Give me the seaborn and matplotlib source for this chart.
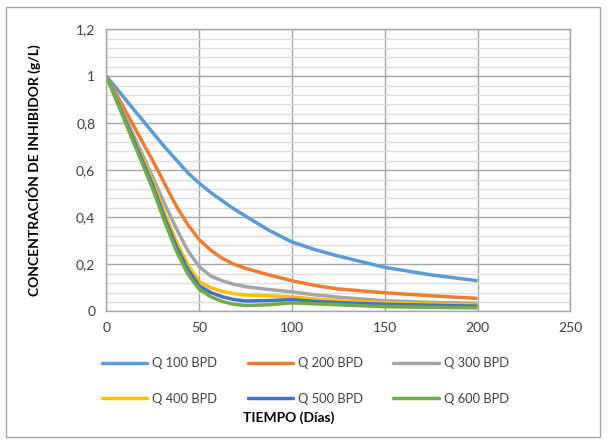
import matplotlib
matplotlib.use("Agg")
import matplotlib.pyplot as plt
import seaborn as sns
import pandas as pd
from matplotlib.lines import Line2D
from matplotlib.patches import Rectangle
from matplotlib.ticker import MultipleLocator, FuncFormatter

# ---- data ----
dias = [0, 12.5, 25, 31.25, 37.5, 43.75, 50, 56.25, 62.5, 68.75, 75, 87.5, 100,
        112.5, 125, 150, 175, 200]
q100 = [1.0, 0.88, 0.76, 0.70, 0.645, 0.59, 0.545, 0.505, 0.47, 0.435, 0.405, 0.345,
        0.295, 0.262, 0.235, 0.187, 0.155, 0.13]
q200 = [1.0, 0.82, 0.64, 0.545, 0.45, 0.37, 0.305, 0.26, 0.225, 0.20, 0.183, 0.155,
        0.13, 0.11, 0.095, 0.079, 0.066, 0.055]
q300 = [1.0, 0.785, 0.57, 0.46, 0.355, 0.26, 0.19, 0.15, 0.13, 0.115, 0.105, 0.093,
        0.083, 0.07, 0.06, 0.045, 0.038, 0.034]
q400 = [1.0, 0.775, 0.55, 0.42, 0.30, 0.20, 0.126, 0.10, 0.085, 0.075, 0.069, 0.066,
        0.062, 0.052, 0.045, 0.037, 0.031, 0.027]
q500 = [1.0, 0.77, 0.535, 0.40, 0.28, 0.18, 0.108, 0.08, 0.062, 0.05, 0.044, 0.046,
        0.05, 0.042, 0.037, 0.030, 0.026, 0.022]
q600 = [1.0, 0.76, 0.52, 0.385, 0.26, 0.16, 0.094, 0.062, 0.042, 0.03, 0.025, 0.028,
        0.036, 0.032, 0.028, 0.02, 0.017, 0.015]
series_names = ["Q 100 BPD", "Q 200 BPD", "Q 300 BPD", "Q 400 BPD", "Q 500 BPD", "Q 600 BPD"]
series_vals = [q100, q200, q300, q400, q500, q600]
colors = ["#5B9BD5", "#ED7D31", "#A5A5A5", "#FFC000", "#4472C4", "#70AD47"]

rows = []
for name, vals in zip(series_names, series_vals):
    for d, v in zip(dias, vals):
        rows.append({"dias": d, "conc": v, "serie": name})
df = pd.DataFrame(rows)

sns.set_style("white")
plt.rcParams["font.family"] = ["Lato", "DejaVu Sans"]

fig = plt.figure(figsize=(6.08, 4.41), dpi=100)
ax = fig.add_axes([0.175, 0.294, 0.763, 0.640])

sns.lineplot(data=df, x="dias", y="conc", hue="serie", hue_order=series_names,
             palette=colors, linewidth=2.5, ax=ax, legend=False, sort=False,
             estimator=None)
for ln in ax.get_lines():
    ln.set_solid_joinstyle("round")
    ln.set_solid_capstyle("butt")

ax.set_xlim(0, 250)
ax.set_ylim(0, 1.2)
ax.xaxis.set_major_locator(MultipleLocator(50))
ax.yaxis.set_major_locator(MultipleLocator(0.2))
ax.yaxis.set_minor_locator(MultipleLocator(0.04))

def fmt(v, pos):
    s = ("%.1f" % v).rstrip("0").rstrip(".")
    return s.replace(".", ",")
ax.yaxis.set_major_formatter(FuncFormatter(fmt))

ax.grid(which="major", axis="both", color="#A6A6A6", linewidth=1.0)
ax.grid(which="minor", axis="y", color="#DDDDDD", linewidth=1.0)
ax.set_axisbelow(True)
for s in ax.spines.values():
    s.set_color("#A6A6A6")
    s.set_linewidth(1.0)
ax.tick_params(axis="both", which="both", length=0, labelsize=10, colors="#404040", pad=8)

ax.set_xlabel("")
ax.set_ylabel("CONCENTRACIÓN DE INHIBIDOR (g/L)", fontsize=10, fontweight="bold",
              color="black")
ax.yaxis.set_label_coords(-0.14, 0.5)

# legend filled row-wise like the reference (matplotlib fills column-wise)
order = [0, 3, 1, 4, 2, 5]
handles = [Line2D([0], [0], color=colors[i], linewidth=2.5) for i in order]
labels = [series_names[i] for i in order]
fig.legend(handles, labels, loc="center", ncol=3, frameon=False,
           bbox_to_anchor=(0.502, 0.136), fontsize=9.3, handlelength=3.5,
           columnspacing=2.36, labelspacing=1.85, handletextpad=0.4,
           labelcolor="#404040")

fig.text(0.474, 0.052, "TIEMPO (Días)", ha="center", va="center",
         fontsize=10, fontweight="bold", color="black")

fig.patches.append(Rectangle((6 / 608, 4 / 441), 594 / 608, 430 / 441,
                             transform=fig.transFigure, fill=False,
                             edgecolor="#A6A6A6", linewidth=1.0))

fig.savefig("out.png", dpi=100)
